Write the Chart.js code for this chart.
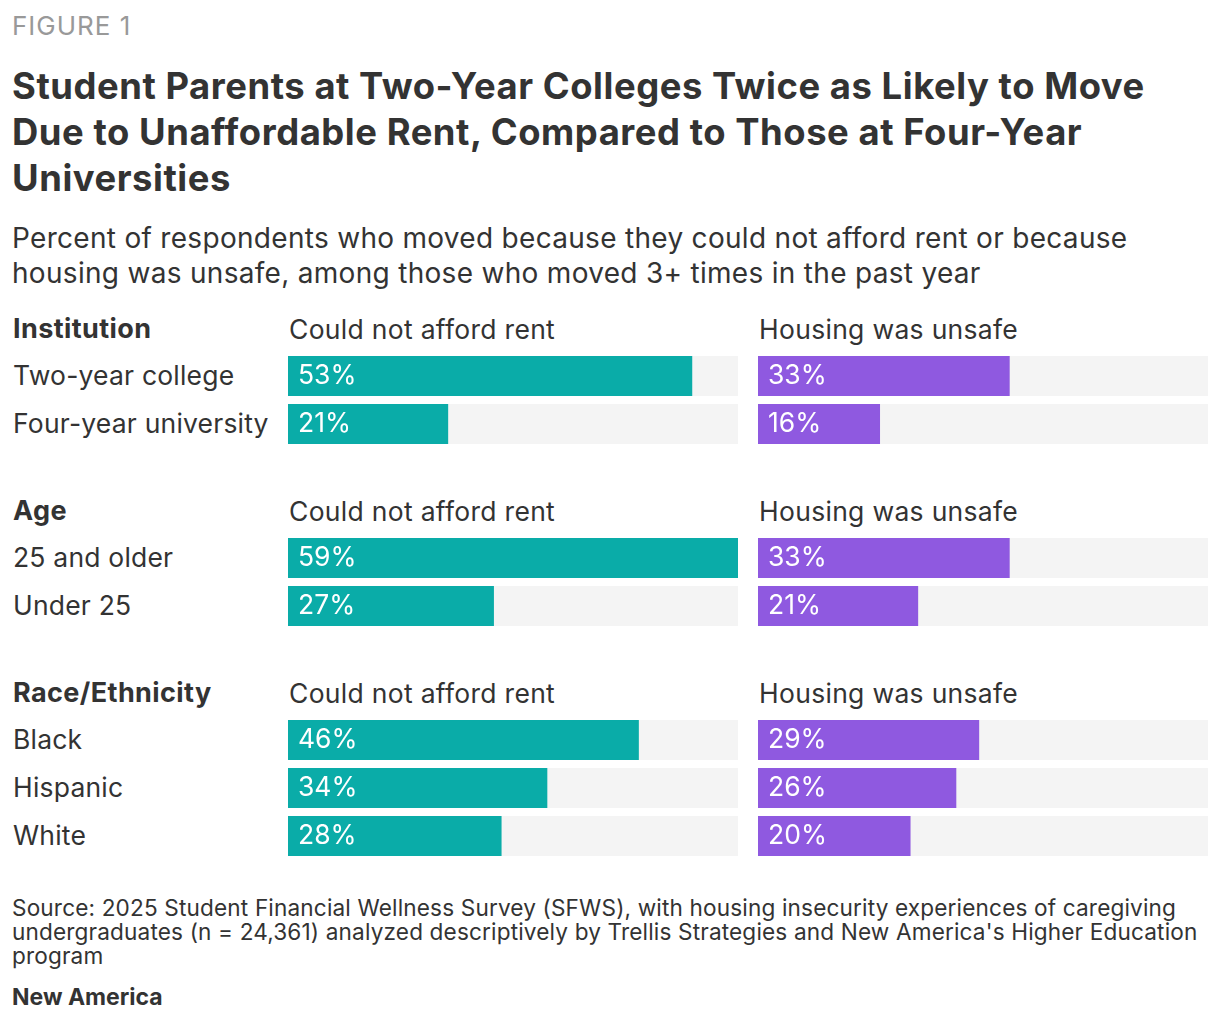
<!DOCTYPE html>
<html>
<head>
<meta charset="utf-8">
<script src="https://cdn.jsdelivr.net/npm/chart.js@4"></script>
<style>
  body { margin: 0; background: #fff; font-family: Inter, "Noto Sans", sans-serif; color: #333; }
  #page { position: relative; width: 1220px; height: 1024px; }
  .abs { position: absolute; white-space: nowrap; }
  #fig { left: 12px; top: 10px; font-size: 26px; letter-spacing: 1px; color: #999; line-height: 32px; }
  #title { left: 12px; top: 63px; font-size: 36.4px; font-weight: 700; line-height: 46px; letter-spacing: 0.55px; color: #333; }
  #sub { left: 12px; top: 221px; font-size: 28px; line-height: 35px; letter-spacing: 0.3px; color: #333; }
  .hdr { font-size: 26.5px; line-height: 30px; letter-spacing: 0.3px; }
  .grp { font-weight: 700; font-size: 27px; letter-spacing: 0.4px; }
  .row { font-size: 26.5px; line-height: 30px; letter-spacing: 0.2px; }
  #src { left: 12px; top: 896px; font-size: 22.6px; line-height: 24px; letter-spacing: 0.15px; }
  #brand { left: 12px; top: 984px; font-size: 23px; font-weight: 700; line-height: 26px; }
  canvas { display: block; }
</style>
</head>
<body>
<div id="page">
  <div id="fig" class="abs">FIGURE 1</div>
  <div id="title" class="abs">Student Parents at Two-Year Colleges Twice as Likely to Move<br>Due to Unaffordable Rent, Compared to Those at Four-Year<br>Universities</div>
  <div id="sub" class="abs">Percent of respondents who moved because they could not afford rent or because<br>housing was unsafe, among those who moved 3+ times in the past year</div>
  <div id="src" class="abs">Source: 2025 Student Financial Wellness Survey (SFWS), with housing insecurity experiences of caregiving<br>undergraduates (n = 24,361) analyzed descriptively by Trellis Strategies and New America's Higher Education<br>program</div>
  <div id="brand" class="abs">New America</div>
</div>
<script>
const groupNames = ['Institution', 'Age', 'Race/Ethnicity'];
const columnTitles = ['Could not afford rent', 'Housing was unsafe'];

const institutionLabels = ['Two-year college', 'Four-year university'];
const institutionRent = [53, 21];
const institutionUnsafe = [33, 16];

const ageLabels = ['25 and older', 'Under 25'];
const ageRent = [59, 27];
const ageUnsafe = [33, 21];

const raceLabels = ['Black', 'Hispanic', 'White'];
const raceRent = [46, 34, 28];
const raceUnsafe = [29, 26, 20];

const scaleMax = 59;

const teal = 'rgb(10, 172, 168)';
const purple = 'rgb(143, 89, 224)';
const track = '#f4f4f4';

// header top y for each group
const groupTops = [314, 496, 678];
const rowPitch = 48;
const colLeft = [288, 758];
const colWidth = 450;

const groups = [
  { labels: institutionLabels, cols: [institutionRent, institutionUnsafe] },
  { labels: ageLabels, cols: [ageRent, ageUnsafe] },
  { labels: raceLabels, cols: [raceRent, raceUnsafe] }
];

const page = document.getElementById('page');

function addText(txt, x, y, cls) {
  const d = document.createElement('div');
  d.className = 'abs ' + cls;
  d.style.left = x + 'px';
  d.style.top = y + 'px';
  d.textContent = txt;
  page.appendChild(d);
}

const valueLabels = {
  id: 'valueLabels',
  afterDatasetsDraw(chart) {
    const c = chart.ctx;
    const meta = chart.getDatasetMeta(1);
    c.save();
    c.fillStyle = '#fff';
    c.font = '26.5px Inter, "Noto Sans", sans-serif';
    c.textBaseline = 'middle';
    meta.data.forEach((bar, i) => {
      const v = chart.data.datasets[1].data[i];
      c.fillText(v + '%', bar.base + 10, bar.y);
    });
    c.restore();
  }
};

groups.forEach((g, gi) => {
  const top = groupTops[gi];
  addText(groupNames[gi], 13, top, 'hdr grp');
  columnTitles.forEach((t, ci) => addText(t, colLeft[ci] + 1, top, 'hdr'));
  g.labels.forEach((l, ri) => addText(l, 13, top + 46 + ri * rowPitch, 'row'));

  g.cols.forEach((vals, ci) => {
    const wrap = document.createElement('div');
    wrap.className = 'abs';
    wrap.style.left = colLeft[ci] + 'px';
    wrap.style.top = (top + 38) + 'px';
    wrap.style.width = colWidth + 'px';
    wrap.style.height = (g.labels.length * rowPitch) + 'px';
    const cv = document.createElement('canvas');
    wrap.appendChild(cv);
    page.appendChild(wrap);

    new Chart(cv.getContext('2d'), {
      type: 'bar',
      data: {
        labels: g.labels,
        datasets: [{
          data: g.labels.map(() => scaleMax),
          backgroundColor: track,
          order: 2
        }, {
          data: vals,
          backgroundColor: ci === 0 ? teal : purple,
          order: 1
        }]
      },
      options: {
        indexAxis: 'y',
        responsive: true,
        maintainAspectRatio: false,
        animation: false,
        grouped: false,
        categoryPercentage: 1,
        barPercentage: 40 / 48,
        layout: { padding: 0 },
        plugins: { legend: { display: false }, tooltip: { enabled: false } },
        scales: {
          x: { display: false, min: 0, max: scaleMax },
          y: { display: false }
        }
      },
      plugins: [valueLabels]
    });
  });
});
</script>
</body>
</html>
